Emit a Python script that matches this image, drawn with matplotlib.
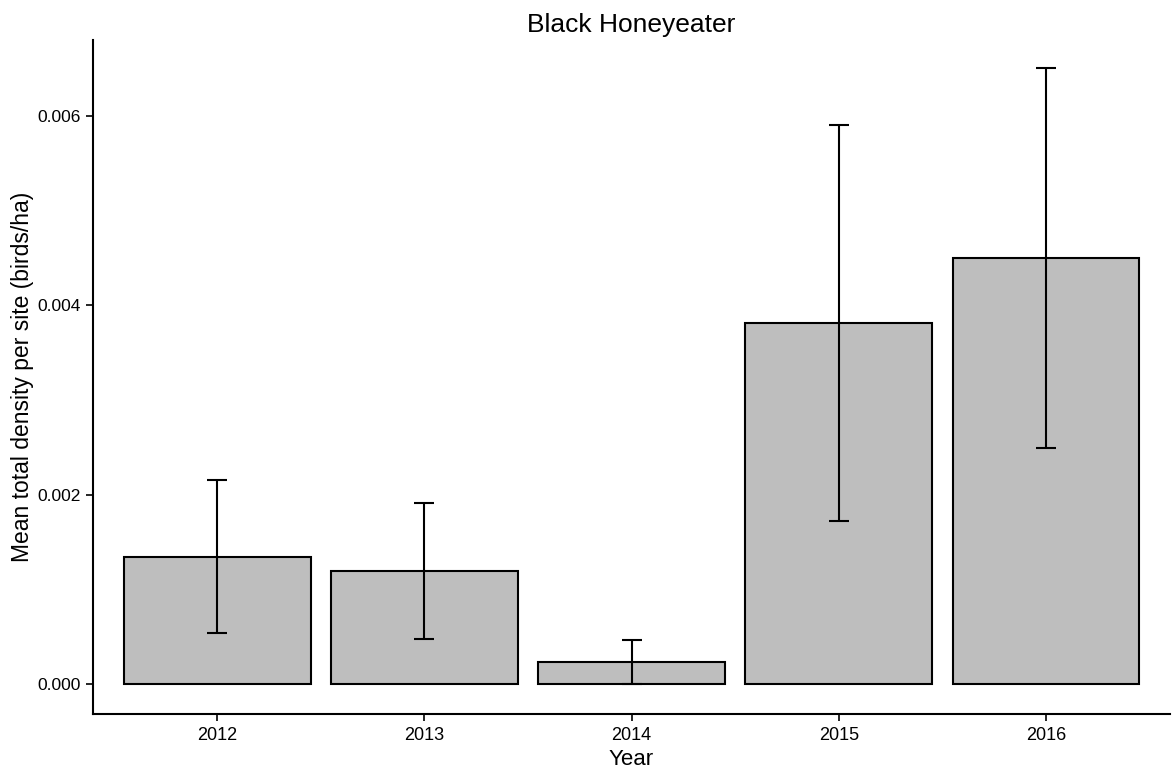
import matplotlib
matplotlib.use("Agg")
import matplotlib.pyplot as plt
import numpy as np

years = ["2012", "2013", "2014", "2015", "2016"]
means = [0.001347, 0.001198, 0.000235, 0.003812, 0.004501]
upper = [0.002157, 0.001916, 0.000470, 0.005901, 0.006507]
lower = [0.000538, 0.000480, 0.000000, 0.001723, 0.002496]

plt.rcParams['font.family'] = ['Liberation Sans', 'DejaVu Sans']

fig = plt.figure(figsize=(11.76, 7.72), dpi=100)
ax = fig.add_axes([0.0791, 0.0751, 0.9159, 0.8729])

x = np.arange(len(years))
m = np.array(means)
yerr = np.vstack([m - np.array(lower), np.array(upper) - m])

ax.bar(x, m, width=0.9, color="#BEBEBE", edgecolor="black", linewidth=1.5, zorder=2)
ax.errorbar(x, m, yerr=yerr, fmt="none", ecolor="black", elinewidth=1.5,
            capsize=7.5, capthick=1.5, zorder=3)

ax.set_xlim(-0.6, 4.6)
ax.set_ylim(-0.000316, 0.0068)
ax.set_xticks(x)
ax.set_xticklabels(years)
ax.set_yticks([0.0, 0.002, 0.004, 0.006])
ax.set_yticklabels(["0.000", "0.002", "0.004", "0.006"])

for s in ["top", "right"]:
    ax.spines[s].set_visible(False)
for s in ["left", "bottom"]:
    ax.spines[s].set_linewidth(1.5)
    ax.spines[s].set_color("black")

ax.tick_params(axis="both", direction="out", length=5, width=1.2, colors="black",
               labelsize=12.5, pad=4)
ax.tick_params(axis="x", labelsize=13)
ax.set_xlabel("Year", fontsize=16, labelpad=4)
ax.set_ylabel("Mean total density per site (birds/ha)", fontsize=16.5, labelpad=2)
ax.set_title("Black Honeyeater", fontsize=19, pad=6)

fig.savefig("out.png", dpi=100)
